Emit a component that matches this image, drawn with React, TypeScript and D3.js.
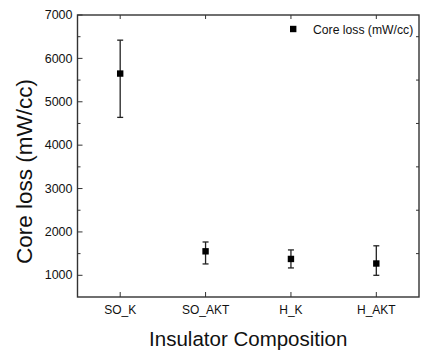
import React, { useEffect, useRef } from 'react';
import * as d3 from 'd3';

const categories = ['SO_K', 'SO_AKT', 'H_K', 'H_AKT'];
const coreLoss = [5650, 1553, 1377, 1272];
const errLow = [4640, 1262, 1170, 1000];
const errHigh = [6420, 1768, 1585, 1680];
const yTicks = [1000, 2000, 3000, 4000, 5000, 6000, 7000];
const yMinorTicks = [1500, 2500, 3500, 4500, 5500, 6500];

const App = () => {
  const svgRef = useRef<SVGSVGElement | null>(null);

  useEffect(() => {
    const svg = d3.select(svgRef.current);
    svg.selectAll('*').remove();

    const left = 77.5, right = 419, top = 15, bottom = 297;
    const font = 'Liberation Sans, Arial, sans-serif';
    const axisColor = '#333';

    const x = d3.scaleLinear().domain([0.5, categories.length + 0.5]).range([left, right]);
    const y = d3.scaleLinear().domain([500, 7000]).range([bottom, top]);

    // frame
    svg.append('rect')
      .attr('x', left).attr('y', top)
      .attr('width', right - left).attr('height', bottom - top)
      .attr('fill', 'none').attr('stroke', axisColor).attr('stroke-width', 1.4);

    // left ticks (inward)
    yTicks.forEach(t => {
      svg.append('line').attr('x1', left).attr('x2', left + 5).attr('y1', y(t)).attr('y2', y(t))
        .attr('stroke', axisColor).attr('stroke-width', 1);
      svg.append('text').attr('x', left - 5).attr('y', y(t)).attr('dy', '0.33em')
        .attr('text-anchor', 'end').attr('font-family', font).attr('font-size', 12.5)
        .attr('fill', '#111').text(t);
    });
    yMinorTicks.forEach(t => {
      svg.append('line').attr('x1', left).attr('x2', left + 3).attr('y1', y(t)).attr('y2', y(t))
        .attr('stroke', axisColor).attr('stroke-width', 1);
      svg.append('line').attr('x1', right).attr('x2', right - 3).attr('y1', y(t)).attr('y2', y(t))
        .attr('stroke', axisColor).attr('stroke-width', 1);
    });

    // category ticks, bottom and top
    categories.forEach((c, i) => {
      const cx = x(i + 1);
      svg.append('line').attr('x1', cx).attr('x2', cx).attr('y1', bottom).attr('y2', bottom - 5)
        .attr('stroke', axisColor).attr('stroke-width', 1);
      svg.append('line').attr('x1', cx).attr('x2', cx).attr('y1', top).attr('y2', top + 4)
        .attr('stroke', axisColor).attr('stroke-width', 1);
      svg.append('text').attr('x', cx).attr('y', 314)
        .attr('text-anchor', 'middle').attr('font-family', font).attr('font-size', 12)
        .attr('fill', '#111').text(c);
    });

    // error bars and markers
    categories.forEach((c, i) => {
      const cx = x(i + 1);
      svg.append('line').attr('x1', cx).attr('x2', cx).attr('y1', y(errLow[i])).attr('y2', y(errHigh[i]))
        .attr('stroke', '#222').attr('stroke-width', 1.3);
      [errLow[i], errHigh[i]].forEach(v => {
        svg.append('line').attr('x1', cx - 3).attr('x2', cx + 3).attr('y1', y(v)).attr('y2', y(v))
          .attr('stroke', '#222').attr('stroke-width', 1.3);
      });
      svg.append('rect').attr('x', cx - 3.2).attr('y', y(coreLoss[i]) - 3.2)
        .attr('width', 6.4).attr('height', 6.4).attr('fill', '#000');
    });

    // legend
    svg.append('rect').attr('x', 290).attr('y', 25.8).attr('width', 6.4).attr('height', 6.4).attr('fill', '#000');
    svg.append('text').attr('x', 313).attr('y', 33.5)
      .attr('font-family', font).attr('font-size', 12.2).attr('fill', '#111')
      .text('Core loss (mW/cc)');

    // axis titles
    svg.append('text')
      .attr('transform', `translate(31.5, 171.5) rotate(-90)`)
      .attr('text-anchor', 'middle').attr('font-family', font).attr('font-size', 22.5)
      .attr('fill', '#111').text('Core loss (mW/cc)');
    svg.append('text').attr('x', (left + right) / 2).attr('y', 345.5)
      .attr('text-anchor', 'middle').attr('font-family', font).attr('font-size', 20.5)
      .attr('fill', '#111').text('Insulator Composition');
  }, []);

  return (
    <svg ref={svgRef} width={422} height={352}
      style={{ position: 'absolute', left: 0, top: 0, background: '#fff' }} />
  );
};

export default App;
